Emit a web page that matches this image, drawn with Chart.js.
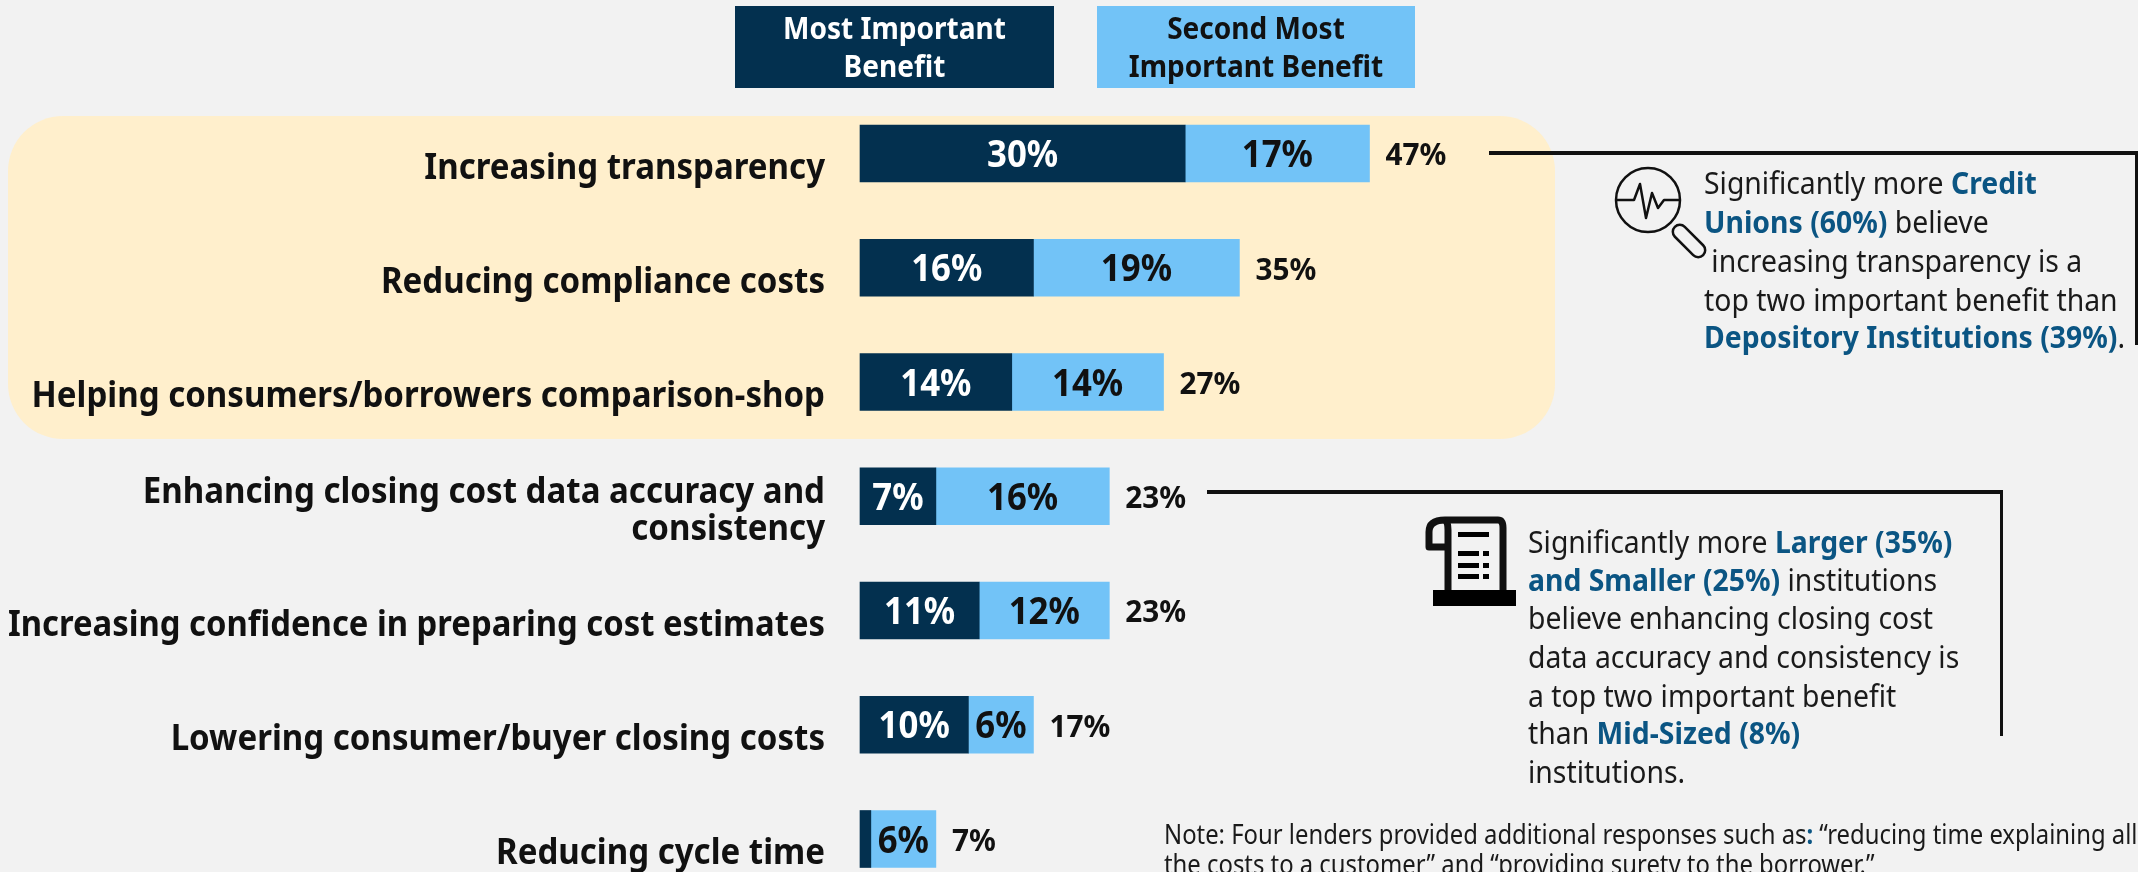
<!DOCTYPE html>
<html><head><meta charset="utf-8">
<script src="https://cdn.jsdelivr.net/npm/chart.js@4"></script>
<style>html,body{margin:0;padding:0;background:#f2f2f2;overflow:hidden}canvas{display:block}</style>
</head><body><canvas id="c" width="2138" height="872"></canvas>
<script>
const categories = [
  ["Increasing transparency"],
  ["Reducing compliance costs"],
  ["Helping consumers/borrowers comparison-shop"],
  ["Enhancing closing cost data accuracy and","consistency"],
  ["Increasing confidence in preparing cost estimates"],
  ["Lowering consumer/buyer closing costs"],
  ["Reducing cycle time"]
];
const mostImportant = [30,16,14,7,11,10,1];
const secondMost = [17,19,14,16,12,6,6];
const totals = [47,35,27,23,23,17,7];
const seriesNames = [["Most Important","Benefit"],["Second Most","Important Benefit"]];
const noteLines = [
  [["Note: Four lenders provided additional responses such as",0],[":",1],[" \u201creducing time explaining all",0]],
  [["the costs to a customer\u201d and \u201cproviding surety to the borrower.\u201d",0]]
];
const callout1 = [
  [["Significantly more ",0],["Credit",1]],
  [["Unions (60%)",1],[" believe",0]],
  [[" increasing transparency is a",0]],
  [["top two important benefit than",0]],
  [["Depository Institutions (39%)",1],[".",0]]
];
const callout2 = [
  [["Significantly more ",0],["Larger (35%)",1]],
  [["and Smaller (25%)",1],[" institutions",0]],
  [["believe enhancing closing cost",0]],
  [["data accuracy and consistency is",0]],
  [["a top two important benefit",0]],
  [["than ",0],["Mid-Sized (8%)",1]],
  [["institutions.",0]]
];
const DARK="#03304f", LIGHT="#72c3f7", INK="#111111", BLUE="#0b5583", FONT="'Noto Sans'";

function rich(ctx,lines,x,ys,size,sx){
  ctx.textAlign="left";ctx.textBaseline="middle";
  lines.forEach((runs,i)=>{
    let px=x;
    runs.forEach(([t,b])=>{
      ctx.font=(b?"700 ":"400 ")+size+"px "+FONT;
      ctx.fillStyle=b?BLUE:"#1a1a1a";
      ctx.save();ctx.translate(px,ys[i]);ctx.scale(sx,1);ctx.fillText(t,0,0);ctx.restore();
      px+=ctx.measureText(t).width*sx;
    });
  });
}
function rr(ctx,x,y,w,h,r){ctx.beginPath();ctx.roundRect(x,y,w,h,r);}
function stext(c,t,x,y,sx){c.save();c.translate(x,y);c.scale(sx,1);c.fillText(t,0,0);c.restore();}

const decor={
  id:"decor",
  beforeDraw(ch){
    const c=ch.ctx;c.save();
    c.fillStyle="#f2f2f2";c.fillRect(0,0,2138,872);
    c.fillStyle="#ffefcc";rr(c,8,116,1547,323,55);c.fill();
    c.restore();
  },
  afterDraw(ch){
    const c=ch.ctx,ys=ch.scales.y,xs=ch.scales.x;c.save();
    // legend
    [[735,319,DARK,"#fff"],[1097,318,LIGHT,INK]].forEach((b,i)=>{
      c.fillStyle=b[2];c.fillRect(b[0],6,b[1],82);
      c.fillStyle=b[3];c.font="700 30px "+FONT;c.textAlign="center";c.textBaseline="middle";
      seriesNames[i].forEach((t,j)=>stext(c,t,b[0]+b[1]/2,30+j*38,0.935));
    });
    // category labels
    c.textAlign="right";c.textBaseline="middle";c.fillStyle=INK;c.font="700 36px "+FONT;
    categories.forEach((lab,i)=>{
      const y=ys.getPixelForValue(i)+15,n=lab.length;
      lab.forEach((t,j)=>{
        const sx=Math.min(0.918,817/c.measureText(t).width);
        stext(c,t,825,y+(j-(n-1)/2)*37.5,sx);
      });
    });
    // value labels
    c.font="700 37px "+FONT;c.textAlign="center";
    ch.data.datasets.forEach((ds,k)=>{
      const m=ch.getDatasetMeta(k);
      ds.data.forEach((v,i)=>{
        if(v<5)return;
        c.fillStyle=k===0?"#fff":INK;
        stext(c,v+"%",(m.data[i].base+m.data[i].x)/2,m.data[i].y+3,0.94);
      });
    });
    // totals
    c.font="700 31px "+FONT;c.textAlign="left";c.fillStyle=INK;
    totals.forEach((v,i)=>{
      const end=xs.getPixelForValue(mostImportant[i]+secondMost[i]);
      stext(c,v+"%",end+16,ys.getPixelForValue(i)+3,0.96);
    });
    // connectors
    c.fillStyle="#111";
    c.fillRect(1489,151,649,4);c.fillRect(2135,151,3,194);
    c.fillRect(1207,490,796,4);c.fillRect(2000,490,3,246);
    // magnifier icon
    c.strokeStyle="#111";c.lineWidth=2.5;c.lineJoin="round";
    c.beginPath();c.arc(1648,200,32,0,Math.PI*2);c.stroke();
    c.beginPath();[[1617,200],[1634,200],[1640,184],[1646,218],[1652,193],[1658,208],[1664,200],[1680,200]].forEach((p,i)=>i?c.lineTo(p[0],p[1]):c.moveTo(p[0],p[1]));c.stroke();
    c.save();c.translate(1689,241);c.rotate(Math.PI/4);rr(c,-20,-7,40,14,7);c.stroke();c.restore();
    // scroll icon
    c.lineWidth=7;
    c.beginPath();c.moveTo(1445,520);c.lineTo(1498,520);c.quadraticCurveTo(1503,520,1503,528);c.lineTo(1503,592);c.stroke();
    c.beginPath();c.moveTo(1445,520);c.quadraticCurveTo(1429,520,1429,532);c.lineTo(1429,547);c.lineTo(1448,547);c.stroke();
    c.beginPath();c.moveTo(1448,530);c.lineTo(1448,592);c.stroke();
    c.beginPath();c.moveTo(1445,520);c.quadraticCurveTo(1448,522,1448,530);c.stroke();
    c.fillStyle="#000";c.fillRect(1433,590,83,16);
    c.fillRect(1458,532,31,5);
    [554,566,577].forEach(y=>{c.fillRect(1458,y-3,21,5);c.fillRect(1483,y-3,6,5);});
    // annotation text
    rich(c,callout1,1704,[185,224,263,302,339],30.5,0.93);
    rich(c,callout2,1528,[544,582,620,659,698,735,774],30.5,0.93);
    rich(c,noteLines,1164,[836,866],26.5,0.9);
    c.restore();
  }
};

new Chart(document.getElementById("c"),{
  type:"bar",
  data:{labels:categories,datasets:[
    {label:seriesNames[0].join(" "),data:mostImportant,backgroundColor:DARK,barThickness:57,clip:false},
    {label:seriesNames[1].join(" "),data:secondMost,backgroundColor:LIGHT,barThickness:57,clip:false}
  ]},
  options:{
    indexAxis:"y",responsive:false,animation:false,
    layout:{padding:{left:860,right:194,top:153.5,bottom:33}},
    plugins:{legend:{display:false},tooltip:{enabled:false}},
    scales:{
      x:{stacked:true,min:0,max:100,display:false},
      y:{stacked:true,display:false,offset:false}
    }
  },
  plugins:[decor]
});
</script></body></html>
